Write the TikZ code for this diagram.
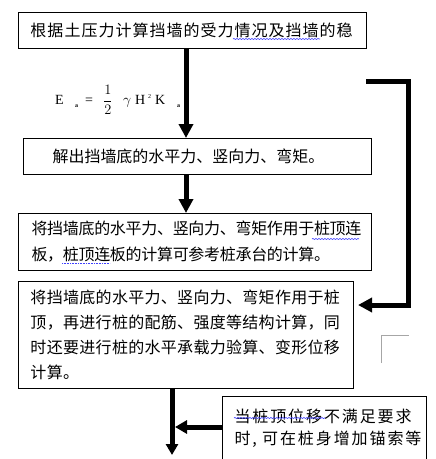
\documentclass[tikz,border=0pt]{standalone}
\usepackage{amsmath}
\usepackage{fontspec}
\setmainfont{Liberation Serif}
\newfontfamily\cjk{Noto Sans CJK SC}
\usetikzlibrary{arrows.meta, positioning, decorations.pathmorphing}

\newcommand{\lowa}{\raisebox{-3pt}{\fontsize{6}{6}\selectfont\bfseries a}}
\newcommand{\eqpart}[2]{\makebox[#1pt][l]{#2}}
\newcommand{\cjksize}[3]{\cjk\fontsize{#1}{#2}\selectfont\addfontfeature{LetterSpace=#3}}

\begin{document}
\begin{tikzpicture}[
  x=1pt, y=-1pt,
  box/.style={draw, line width=1pt, anchor=north west, align=left, inner ysep=0pt},
  flow/.style={-{Triangle[length=14pt, width=14pt]}, line width=5pt},
  spell/.style={draw=blue!75, line width=0.6pt, decorate,
    decoration={snake, amplitude=0.6pt, segment length=3pt}}
]
\useasboundingbox (0,0) rectangle (436,459);

\node[box, minimum width=348pt, minimum height=36pt, text width=324pt, inner xsep=12pt,
  font={\cjksize{16}{25}{6.3}}] (b1) at (18,12)
  {\mbox{根据土压力计算挡墙的受力情况及挡墙的稳}};
\node[box, below right=89pt and 5pt of b1.south west, minimum width=348pt, minimum height=36pt,
  text width=290pt, inner xsep=29pt, font={\cjksize{16}{25}{0}}] (b2)
  {\mbox{解出挡墙底的水平力、竖向力、弯矩。}};
\node[box, below right=38pt and -5pt of b2.south west, minimum width=353pt, minimum height=57pt,
  text width=327pt, inner xsep=13pt, font={\cjksize{16}{26}{-1.9}}] (b3)
  {\mbox{将挡墙底的水平力、竖向力、弯矩作用于桩顶连}\\
   \mbox{板，桩顶连板的计算可参考桩承台的计算。}};
\node[box, below right=10pt and 0pt of b3.south west, minimum width=335pt, minimum height=107pt,
  text width=311pt, inner xsep=12pt, font={\cjksize{16}{25}{1.9}}] (b4)
  {\mbox{将挡墙底的水平力、竖向力、弯矩作用于桩}\\
   \mbox{顶，再进行桩的配筋、强度等结构计算，同}\\
   \mbox{时还要进行桩的水平承载力验算、变形位移}\\
   \mbox{计算。}};
\node[box, below right=7pt and 204pt of b4.south west, minimum width=204pt, minimum height=63pt,
  text width=180pt, inner xsep=12pt, font={\cjksize{16}{22}{11.9}}] (b5)
  {\mbox{当桩顶位移不满足要求}\\
   \mbox{时, 可在桩身增加锚索等}};

\node[anchor=west, inner sep=0pt, font=\fontsize{14}{16}\selectfont] (ea) at (55,100)
  {\eqpart{20}{E}\eqpart{10}{\lowa}\eqpart{18}{=}\eqpart{20}{$\dfrac{1}{2}$}\eqpart{12}{$\gamma$}%
   \eqpart{13}{H}\eqpart{7}{\raisebox{6pt}{\fontsize{6}{6}\selectfont 2}}\eqpart{22}{K}\lowa};

\coordinate (spine) at (186,0);
\coordinate (spineb) at (172,0);
\coordinate (fb) at (366,81);
\coordinate (fbend) at (358,305);
\coordinate (join) at (175,427);
\coordinate (out) at (172,455);

\draw[flow] (b1.south -| spine) -- (b2.north -| spine);
\draw[flow] (b2.south -| spine) -- (b3.north -| spine);
\draw[flow] (fb) -- ++(42,0) |- (fbend);
\draw[flow, -{Triangle[length=11pt, width=12pt]}] (b4.south -| spineb) -- (out);
\draw[flow, -{Triangle[length=12pt, width=13pt]}] (b5.west |- join) -- (join);

\draw[spell] (233,39) -- (320,39);
\draw[spell] (312,239) -- (359,239);
\draw[blue!75, line width=0.6pt, densely dotted] (62,263) -- (110,263);
\draw[spell] (234,418) -- (325,418);
\draw[black!35, line width=0.8pt] (381,363) |- (409,335);
\end{tikzpicture}
\end{document}
